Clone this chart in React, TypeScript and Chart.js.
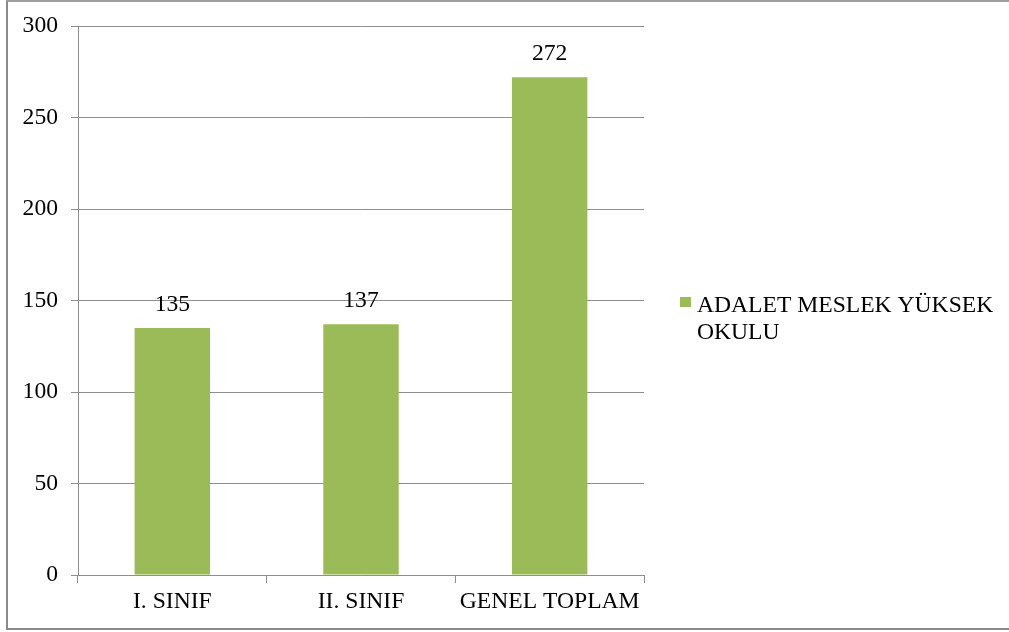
import React, { useEffect, useRef } from "react";
import { Chart, registerables } from "chart.js";

Chart.register(...registerables);

const categories: string[] = ["I. SINIF", "II. SINIF", "GENEL TOPLAM"];
const seriesName: string[] = ["ADALET MESLEK YÜKSEK", "OKULU"];
const seriesValues: number[] = [135, 137, 272];
const yTicks: number[] = [0, 50, 100, 150, 200, 250, 300];

const BAR_COLOR = "#9BBB59";
const LINE_COLOR = "#8e8e8e";
const FONT_FAMILY = "'Times New Roman', 'Liberation Serif', serif";
const FONT_SIZE = 23.6;

const dataLabelPlugin = {
  id: "dataLabels",
  afterDatasetsDraw(chart: any) {
    const ctx = chart.ctx;
    const meta = chart.getDatasetMeta(0);
    ctx.save();
    ctx.font = `${FONT_SIZE}px ${FONT_FAMILY}`;
    ctx.fillStyle = "#000";
    ctx.textAlign = "center";
    ctx.textBaseline = "alphabetic";
    meta.data.forEach((el: any, i: number) => {
      ctx.fillText(String(seriesValues[i]), el.x, el.y - 17);
    });
    ctx.restore();
  },
};

const legendPlugin = {
  id: "customLegend",
  afterDraw(chart: any) {
    const ctx = chart.ctx;
    ctx.save();
    ctx.fillStyle = BAR_COLOR;
    ctx.fillRect(680, 297, 11, 10);
    ctx.fillStyle = "#000";
    ctx.font = `${FONT_SIZE}px ${FONT_FAMILY}`;
    ctx.textAlign = "left";
    ctx.textBaseline = "alphabetic";
    seriesName.forEach((line, i) => {
      ctx.fillText(line, 697, 311.5 + i * 27.5);
    });
    ctx.restore();
  },
};

export default function App() {
  const canvasRef = useRef<HTMLCanvasElement | null>(null);

  useEffect(() => {
    if (!canvasRef.current) return;
    const chart = new Chart(canvasRef.current, {
      type: "bar",
      data: {
        labels: categories,
        datasets: [
          {
            label: seriesName.join(" "),
            data: seriesValues,
            backgroundColor: BAR_COLOR,
            barPercentage: 0.4,
            categoryPercentage: 1,
          },
        ],
      },
      options: {
        animation: false,
        responsive: false,
        maintainAspectRatio: false,
        layout: { padding: { left: 0, right: 365, top: 26, bottom: 0 } },
        plugins: {
          legend: { display: false },
          tooltip: { enabled: false },
        },
        scales: {
          x: {
            grid: {
              display: true,
              drawOnChartArea: false,
              drawTicks: true,
              tickLength: 8,
              color: LINE_COLOR,
              offset: true,
            },
            border: { display: true, color: LINE_COLOR, width: 1 },
            ticks: {
              color: "#000",
              font: { family: FONT_FAMILY, size: FONT_SIZE },
              padding: 5,
              maxRotation: 0,
            },
            afterFit(scale: any) {
              scale.height = 57;
              scale.paddingLeft = 0;
              scale.paddingRight = 0;
            },
          },
          y: {
            min: 0,
            max: 300,
            afterBuildTicks(scale: any) {
              scale.ticks = yTicks.map((v) => ({ value: v }));
            },
            grid: {
              display: true,
              drawOnChartArea: true,
              drawTicks: true,
              tickLength: 7,
              color: LINE_COLOR,
            },
            border: { display: true, color: LINE_COLOR, width: 1 },
            ticks: {
              color: "#000",
              font: { family: FONT_FAMILY, size: FONT_SIZE },
              padding: 13,
            },
            afterFit(scale: any) {
              scale.width = 78;
              scale.paddingTop = 0;
              scale.paddingBottom = 0;
            },
          },
        },
      },
      plugins: [dataLabelPlugin, legendPlugin],
    });
    return () => chart.destroy();
  }, []);

  return (
    <div style={{ position: "absolute", left: 0, top: 0, width: 1009, height: 632, background: "#fff", overflow: "hidden" }}>
      <div
        style={{
          position: "absolute",
          left: 6,
          top: 0,
          width: 1100,
          height: 626,
          borderLeft: "2px solid #8a8a8a",
          borderTop: "2px solid #a0a0a0",
          borderBottom: "2px solid #8a8a8a",
        }}
      />
      <canvas ref={canvasRef} width={1009} height={632} style={{ position: "absolute", left: 0, top: 0 }} />
    </div>
  );
}
